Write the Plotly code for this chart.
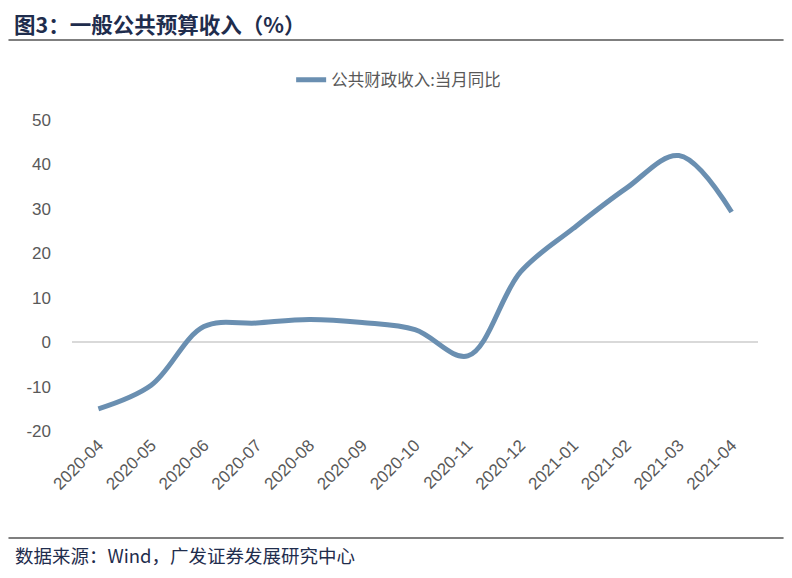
import plotly.graph_objects as go

months = ["2020-04", "2020-05", "2020-06", "2020-07", "2020-08", "2020-09", "2020-10",
          "2020-11", "2020-12", "2021-01", "2021-02", "2021-03", "2021-04"]
revenue_yoy = [-15.0, -9.7, 3.5, 4.3, 5.1, 4.4, 2.8, -3.1, 15.8, 25.6, 34.6, 42.0, 29.3]
y_ticks = [-20, -10, 0, 10, 20, 30, 40, 50]

# page body has an 8px default margin; work in reference-screen coordinates
OFF = 8
W, H = 792, 578
PL, PR, PT, PB = 71.6, 758.4, 120, 431  # plot area in screen px
L, T = PL - OFF, PT - OFF
PW, PH = PR - PL, PB - PT
R = W - L - PW
B = H - T - PH


def px_x(x):
    return (x - PL) / PW


def px_y(y):
    return (PB - y) / PH


fig = go.Figure()
fig.add_trace(go.Scatter(
    x=months, y=revenue_yoy, mode="lines", name="公共财政收入:当月同比",
    line=dict(color="#6A8FB1", width=5, shape="spline", smoothing=1.0),
))

fig.update_layout(
    width=W, height=H,
    margin=dict(l=L, r=R, t=T, b=B, autoexpand=False),
    paper_bgcolor="white", plot_bgcolor="white",
    font=dict(family="Liberation Sans, Arial, sans-serif", color="#595959", size=16),
    showlegend=True,
    legend=dict(orientation="h", x=px_x(291), xanchor="left", y=px_y(80), yanchor="middle",
                font=dict(size=16.5, color="#595959", family="Noto Sans CJK SC")),
    xaxis=dict(type="category", range=[-0.5, len(months) - 0.5], tickangle=-45,
               showgrid=False, showline=False, ticks="",
               tickfont=dict(size=17, color="#595959")),
    yaxis=dict(range=[-20, 50], tickvals=y_ticks, ticktext=[str(v) for v in y_ticks],
               showgrid=False, showline=False, ticks="",
               zeroline=True, zerolinecolor="#D9D9D9", zerolinewidth=2,
               tickfont=dict(size=17, color="#595959"), ticklabelstandoff=20),
    shapes=[
        dict(type="line", xref="paper", yref="paper", x0=px_x(8), x1=px_x(784), y0=px_y(40), y1=px_y(40),
             line=dict(color="black", width=1.2)),
        dict(type="line", xref="paper", yref="paper", x0=px_x(8), x1=px_x(784), y0=px_y(538), y1=px_y(538),
             line=dict(color="black", width=1.2)),
    ],
    annotations=[
        dict(text="<b>图3：一般公共预算收入（%）</b>", xref="paper", yref="paper",
             x=px_x(13), y=px_y(23), xanchor="left", yanchor="middle", borderpad=0,
             showarrow=False, font=dict(size=21.5, color="#1F2D4D", family="Noto Sans CJK SC")),
        dict(text="数据来源：Wind，广发证券发展研究中心", xref="paper", yref="paper",
             x=px_x(13), y=px_y(555), xanchor="left", yanchor="middle",
             showarrow=False, font=dict(size=18.5, color="#1F2D4D", family="Noto Sans CJK SC")),
    ],
)

fig.write_html("out.html")
